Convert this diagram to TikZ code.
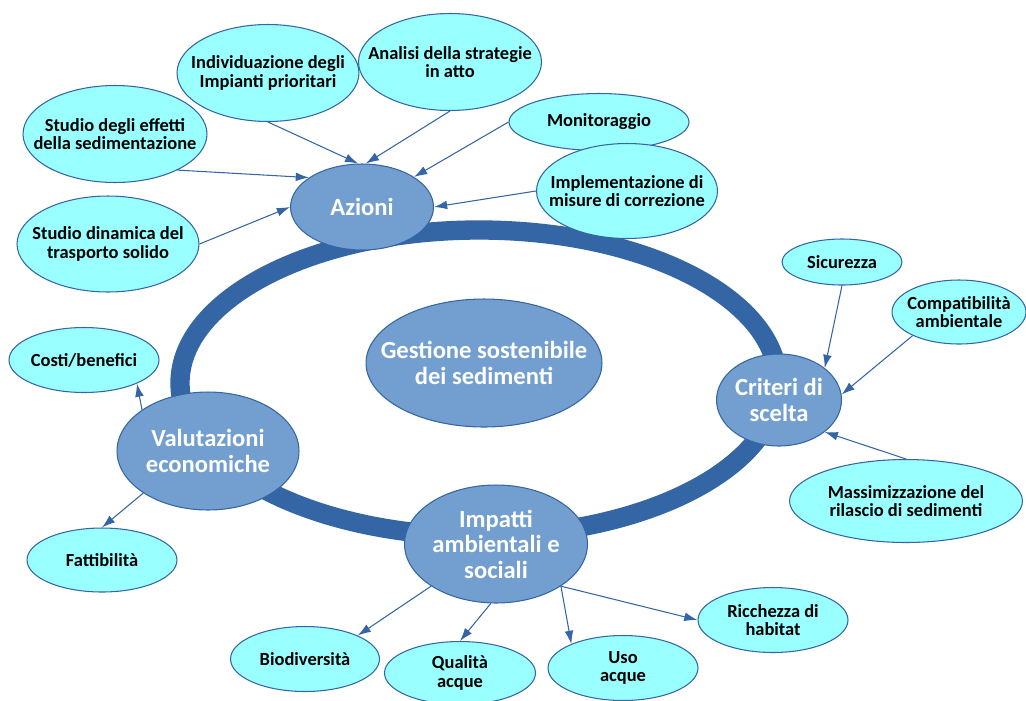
\documentclass[tikz,border=0pt]{standalone}
\usepackage{fontspec}
\setmainfont{Carlito}
\usepackage{tikz}
\usetikzlibrary{shapes.geometric, arrows.meta}

\definecolor{ringblue}{HTML}{3465A4}
\definecolor{mainfill}{HTML}{729FCF}
\definecolor{leaffill}{HTML}{99FFFF}

\tikzset{
  mainnode/.style={ellipse, draw=ringblue, line width=0.6pt, fill=mainfill, inner sep=0pt},
  leaf/.style={ellipse, draw=ringblue, line width=0.6pt, fill=leaffill, inner sep=0pt},
  maintxt/.style={text=white, align=center, font=\fontsize{14}{14.5}\selectfont\bfseries},
  leaftxt/.style={text=black, align=center, font=\fontsize{10.5}{10.6}\selectfont\bfseries},
  link/.style={draw=ringblue, line width=0.6pt, -{Latex[length=7.5pt,width=5pt]}}
}

\begin{document}
\begin{tikzpicture}[x=0.02cm, y=-0.02cm]
      \useasboundingbox (0,0) rectangle (1026,700);

      % Central ring
      \draw[ringblue, line width=11pt] (479,383) ellipse [x radius=299, y radius=153];

      % Main nodes
      \node[mainnode, minimum width=4.72cm, minimum height=2.56cm,
        label={[maintxt]center:Gestione sostenibile\\dei sedimenti}] (gest) at (484,363) {};
      \node[mainnode, minimum width=2.86cm, minimum height=1.72cm,
        label={[maintxt]center:Azioni}] (azioni) at (362,207) {};
      \node[mainnode, minimum width=2.5cm, minimum height=1.84cm,
        label={[maintxt]center:Criteri di\\scelta}] (criteri) at (779,400) {};
      \node[mainnode, minimum width=3.64cm, minimum height=2.36cm,
        label={[maintxt]center:Valutazioni\\economiche}] (valut) at (208,451) {};
      \node[mainnode, minimum width=3.66cm, minimum height=2.36cm,
        label={[maintxt]center:Impatti\\ambientali e\\sociali}] (impatti) at (496,544) {};

      % Nodes around Azioni
      \node[leaf, minimum width=3.64cm, minimum height=1.94cm,
        label={[leaftxt]center:Individuazione degli\\Impianti prioritari}] (indiv) at (268,73) {};
      \node[leaf, minimum width=3.66cm, minimum height=1.94cm,
        label={[leaftxt]center:Analisi della strategie\\in atto}] (analisi) at (450,62) {};
      \node[leaf, minimum width=3.68cm, minimum height=1.94cm,
        label={[leaftxt]center:Studio degli effetti\\della sedimentazione}] (effetti) at (115,134) {};
      \node[leaf, minimum width=3.64cm, minimum height=1.92cm,
        label={[leaftxt]center:Studio dinamica del\\trasporto solido}] (dinamica) at (108,244) {};
      \node[leaf, minimum width=3.6cm, minimum height=1.14cm,
        label={[leaftxt]center:Monitoraggio}] (monit) at (599,122) {};
      \node[leaf, minimum width=3.62cm, minimum height=1.9cm,
        label={[leaftxt]center:Implementazione di\\misure di correzione}] (impl) at (627,191) {};

      % Nodes around Criteri di scelta
      \node[leaf, minimum width=2.4cm, minimum height=0.92cm,
        label={[leaftxt]center:Sicurezza}] (sicur) at (842,262) {};
      \node[leaf, minimum width=2.68cm, minimum height=1.28cm,
        label={[leaftxt]center:Compatibilità\\ambientale}] (compat) at (959,312) {};
      \node[leaf, minimum width=4.66cm, minimum height=1.66cm,
        label={[leaftxt]center:Massimizzazione del\\rilascio di sedimenti}] (massim) at (906,501) {};

      % Nodes around Valutazioni economiche
      \node[leaf, minimum width=3cm, minimum height=1.3cm,
        label={[leaftxt]center:Costi/benefici}] (costi) at (84,360) {};
      \node[leaf, minimum width=3cm, minimum height=1.28cm,
        label={[leaftxt]center:Fattibilità}] (fattib) at (102,560) {};

      % Nodes around Impatti
      \node[leaf, minimum width=2.98cm, minimum height=1.3cm,
        label={[leaftxt]center:Biodiversità}] (biodiv) at (305,659) {};
      \node[leaf, minimum width=3.02cm, minimum height=1.26cm,
        label={[leaftxt]center:Qualità\\acque}] (qualita) at (460,673) {};
      \node[leaf, minimum width=3cm, minimum height=1.3cm,
        label={[leaftxt]center:Uso\\acque}] (uso) at (623,668) {};
      \node[leaf, minimum width=3cm, minimum height=1.3cm,
        label={[leaftxt]center:Ricchezza di\\habitat}] (ricch) at (773,620) {};

      % Arrows
      \draw[link] (indiv.south) -- (azioni.95);
      \draw[link] (analisi.south) -- (azioni.85);
      \draw[link] (monit.west) -- (azioni.30);
      \draw[link] (impl.west) -- (azioni.east);
      \draw[link] (effetti.-30) -- (azioni.151);
      \draw[link] (dinamica.east) -- (azioni.west);
      \draw[link] (sicur.south) -- (criteri.35);
      \draw[link] (compat.207) -- (criteri.5);
      \draw[link] (massim.north) -- (criteri.-35);
      \draw[link] (valut.148) -- (costi.-24);
      \draw[link] (valut.213) -- (fattib.north);
      \draw[link] (impatti.213) -- (biodiv.24);
      \draw[link] (impatti.-95) -- (qualita.north);
      \draw[link] (impatti.-33) -- (uso.155);
      \draw[link] (impatti.-33) -- (ricch.west);
    \end{tikzpicture}
\end{document}
